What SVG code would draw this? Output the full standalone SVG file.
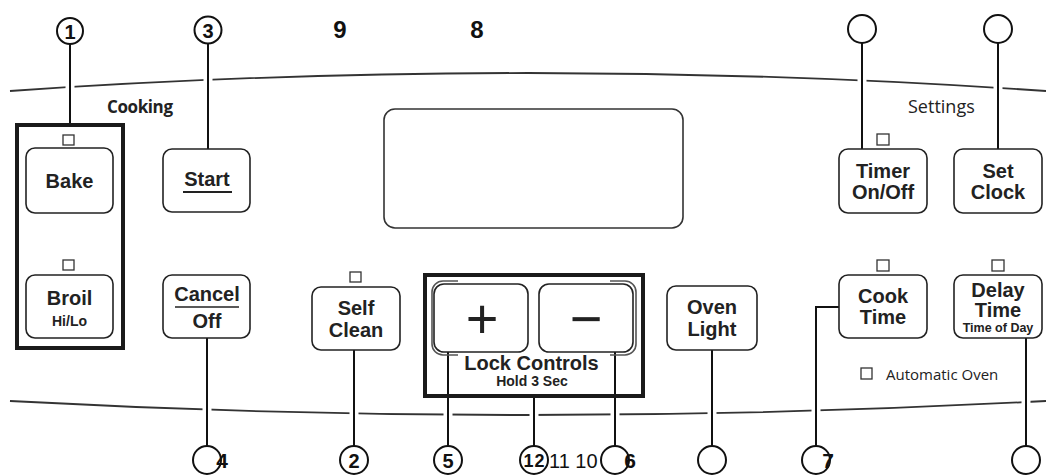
<svg xmlns="http://www.w3.org/2000/svg" width="1046" height="475" viewBox="0 0 1046 475">
<style>
.bg{fill:#fff}
.curve{fill:none;stroke:#333;stroke-width:1.8}
.conn{fill:none;stroke:#111;stroke-width:2}
.halo{fill:none;stroke:#fff;stroke-width:9}
.btn{fill:#fff;stroke:#222;stroke-width:1.6}
.ind{fill:#fff;stroke:#333;stroke-width:1.3}
.frame{fill:none;stroke:#1a1a1a;stroke-width:4}
.co{fill:#fff;stroke:#111;stroke-width:2}
.t{font-family:"Liberation Sans",Arial,sans-serif;font-weight:bold;fill:#222;text-anchor:middle}
.sym{font-family:"Liberation Sans",Arial,sans-serif;font-weight:normal;fill:#222;text-anchor:middle}
.n{font-family:"Liberation Sans",Arial,sans-serif;font-weight:bold;fill:#111;text-anchor:middle}
.lbl{font-family:"Open Sans","Liberation Sans",sans-serif;fill:#222}
</style>
<rect class="bg" x="0" y="0" width="1046" height="475"/>
<g id="panel-lines">
<path class="curve" d="M10,91 Q528,55 1046,91"/>
<path class="curve" d="M10,401 Q528,429 1046,401"/>
</g>
<g id="connectors">
<g class="halo">
<line x1="70" y1="79" x2="70" y2="95"/>
<line x1="208" y1="72" x2="208" y2="88"/>
<line x1="862" y1="72" x2="862" y2="89"/>
<line x1="998" y1="80" x2="998" y2="96"/>
<line x1="207" y1="402" x2="207" y2="418"/>
<line x1="354" y1="405" x2="354" y2="422"/>
<line x1="448" y1="406" x2="448" y2="423"/>
<line x1="534" y1="406" x2="534" y2="424"/>
<line x1="615" y1="406" x2="615" y2="423"/>
<line x1="712" y1="405" x2="712" y2="422"/>
<line x1="816" y1="402" x2="816" y2="419"/>
<line x1="1026" y1="394" x2="1026" y2="410"/>
</g>
<line class="conn" x1="70" y1="44" x2="70" y2="125"/>
<line class="conn" x1="208" y1="44" x2="208" y2="149"/>
<line class="conn" x1="862" y1="43" x2="862" y2="149"/>
<line class="conn" x1="998" y1="43" x2="998" y2="149"/>
<line class="conn" x1="207" y1="338" x2="207" y2="446"/>
<line class="conn" x1="354" y1="350" x2="354" y2="446"/>
<line class="conn" x1="448" y1="352" x2="448" y2="446"/>
<line class="conn" x1="534" y1="396" x2="534" y2="446"/>
<line class="conn" x1="615" y1="352" x2="615" y2="446"/>
<line class="conn" x1="712" y1="350" x2="712" y2="446"/>
<path class="conn" d="M839,307 H816 V446"/>
<line class="conn" x1="1026" y1="338" x2="1026" y2="446"/>
</g>
<g id="section-labels">
<text class="lbl" x="107" y="113" font-size="17" textLength="66" font-weight="bold">Cooking</text>
<text class="lbl" x="908" y="113" font-size="18">Settings</text>
</g>
<g id="display"><rect x="384" y="109" width="299" height="119" rx="11" fill="#fff" stroke="#333" stroke-width="1.6"/></g>
<g id="cooking-frame"><rect class="frame" x="17" y="125" width="106" height="223"/></g>
<g id="bake">
<rect class="ind" x="63" y="135" width="11" height="10"/>
<rect class="btn" x="26" y="148" width="87" height="65" rx="9"/>
<text class="t" x="69.5" y="188" font-size="20">Bake</text>
</g>
<g id="broil">
<rect class="ind" x="63" y="260" width="11" height="10"/>
<rect class="btn" x="26" y="275" width="87" height="63" rx="9"/>
<text class="t" x="69.5" y="305" font-size="20">Broil</text>
<text class="t" x="69.5" y="326" font-size="14">Hi/Lo</text>
</g>
<g id="start">
<rect class="btn" x="163" y="149" width="87" height="63" rx="9"/>
<text class="t" x="207" y="186" font-size="20">Start</text>
<line x1="183" y1="192" x2="232" y2="192" stroke="#222" stroke-width="2"/>
</g>
<g id="cancel">
<rect class="btn" x="163" y="275" width="87" height="63" rx="9"/>
<text class="t" x="207" y="301" font-size="20">Cancel</text>
<line x1="175" y1="307" x2="239" y2="307" stroke="#222" stroke-width="1.5"/>
<text class="t" x="207" y="328" font-size="20">Off</text>
</g>
<g id="self-clean">
<rect class="ind" x="350" y="272" width="11" height="10"/>
<rect class="btn" x="312" y="287" width="88" height="63" rx="9"/>
<text class="t" x="356" y="315" font-size="20">Self</text>
<text class="t" x="356" y="337" font-size="20">Clean</text>
</g>
<g id="lock-controls">
<rect class="frame" x="425" y="275" width="218" height="121"/>
<text class="t" x="531.5" y="370" font-size="20">Lock Controls</text>
<text class="t" x="532" y="386" font-size="14">Hold 3 Sec</text>
</g>
<g id="plus">
<path d="M458,281 H443 a11 11 0 0 0 -11 11 V344 a11 11 0 0 0 11 11 H458" fill="none" stroke="#555" stroke-width="1.6"/>
<rect class="btn" x="434" y="284" width="94" height="68" rx="10"/>
<text class="sym" x="482" y="338" font-size="56">+</text>
</g>
<g id="minus">
<path d="M610,281 H625 a11 11 0 0 1 11 11 V344 a11 11 0 0 1 -11 11 H610" fill="none" stroke="#555" stroke-width="1.6"/>
<rect class="btn" x="539" y="284" width="94" height="68" rx="10"/>
<text class="sym" x="586" y="338" font-size="56">−</text>
</g>
<g id="oven-light">
<rect class="btn" x="667" y="286" width="90" height="64" rx="9"/>
<text class="t" x="712" y="314" font-size="20">Oven</text>
<text class="t" x="712" y="336" font-size="20">Light</text>
</g>
<g id="timer">
<rect class="ind" x="877" y="134" width="12" height="11"/>
<rect class="btn" x="839" y="149" width="88" height="64" rx="9"/>
<text class="t" x="883" y="178" font-size="20">Timer</text>
<text class="t" x="883" y="199" font-size="20">On/Off</text>
</g>
<g id="set-clock">
<rect class="btn" x="954" y="149" width="88" height="64" rx="9"/>
<text class="t" x="998" y="178" font-size="20">Set</text>
<text class="t" x="998" y="199" font-size="20">Clock</text>
</g>
<g id="cook-time">
<rect class="ind" x="877" y="260" width="12" height="11"/>
<rect class="btn" x="839" y="275" width="88" height="63" rx="9"/>
<text class="t" x="883" y="303" font-size="20">Cook</text>
<text class="t" x="883" y="324" font-size="20">Time</text>
</g>
<g id="delay-time">
<rect class="ind" x="992" y="260" width="12" height="11"/>
<rect class="btn" x="954" y="275" width="88" height="63" rx="9"/>
<text class="t" x="998" y="297" font-size="20">Delay</text>
<text class="t" x="998" y="317" font-size="20">Time</text>
<text class="t" x="998" y="332" font-size="12.5">Time of Day</text>
</g>
<g id="automatic-oven">
<rect class="ind" x="861" y="368" width="11" height="11"/>
<text class="lbl" x="886" y="380" font-size="15">Automatic Oven</text>
</g>
<g id="callouts-top">
<circle class="co" cx="70" cy="31" r="13"/>
<text class="n" x="70" y="38.5" font-size="20">1</text>
<circle class="co" cx="208" cy="30" r="13.5"/>
<text class="n" x="208" y="37.5" font-size="20">3</text>
<text class="n" x="340" y="38" font-size="24">9</text>
<text class="n" x="477" y="38" font-size="24">8</text>
<circle class="co" cx="862" cy="29" r="14"/>
<circle class="co" cx="998" cy="29" r="14"/>
</g>
<g id="callouts-bottom">
<circle class="co" cx="207" cy="460" r="14"/>
<text class="n" x="222" y="468" font-size="21">4</text>
<circle class="co" cx="354" cy="460" r="14"/>
<text class="n" x="354" y="467.5" font-size="20">2</text>
<circle class="co" cx="448" cy="460" r="14"/>
<text class="n" x="448" y="467.5" font-size="20">5</text>
<circle class="co" cx="534" cy="460" r="14"/>
<text class="n" x="534" y="467" font-size="18" textLength="21">12</text>
<text x="549" y="468" font-family="Liberation Sans, Arial, sans-serif" font-size="20" fill="#111">11 10</text>
<circle class="co" cx="615" cy="460" r="14"/>
<text class="n" x="630" y="468" font-size="21">6</text>
<circle class="co" cx="712" cy="460" r="14"/>
<circle class="co" cx="816" cy="460" r="14"/>
<text class="n" x="828" y="468" font-size="21">7</text>
<circle class="co" cx="1026" cy="460" r="14"/>
</g>
</svg>
